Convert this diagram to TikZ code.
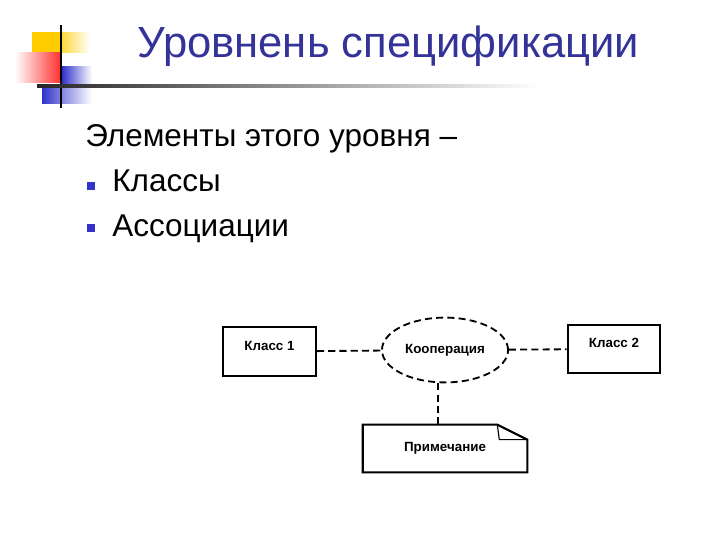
\documentclass[tikz,border=0pt]{standalone}
\usepackage{fontspec}
\setmainfont{Liberation Sans}
\usetikzlibrary{shapes.geometric,positioning,calc}

\definecolor{titleblue}{HTML}{333399}
\definecolor{logoyellow}{HTML}{FFCC00}
\definecolor{logored}{HTML}{FF3333}
\definecolor{logoblue}{HTML}{3333CC}

\begin{document}
\begin{tikzpicture}[
    x=0.025cm,
    y=-0.025cm,
    title/.style={
        anchor=base west,
        inner sep=0pt,
        text=titleblue,
        font=\fontsize{31}{37}\selectfont
    },
    bodytext/.style={
        anchor=base west,
        inner sep=0pt,
        font=\fontsize{22.4}{27}\selectfont
    },
    classbox/.style={
        draw=black,
        line width=1.5pt,
        minimum width=2.32cm,
        minimum height=1.22cm,
        text depth=0.3cm,
        font=\bfseries\fontsize{9.5}{11}\selectfont
    },
    coopshape/.style={
        ellipse,
        draw=black,
        line width=1.3pt,
        dash pattern=on 5pt off 3pt,
        minimum width=3.1cm,
        minimum height=1.62cm,
        font=\bfseries\fontsize{9.5}{11}\selectfont
    },
    notebox/.style={
        minimum width=4.1cm,
        minimum height=1.18cm,
        font=\bfseries\fontsize{9.5}{11}\selectfont
    },
    link/.style={
        line width=1.3pt,
        dash pattern=on 5pt off 3pt
    }
]
\useasboundingbox (0,0) rectangle (720,540);

% ==========================================================
% LOGO
% ==========================================================

\fill[logoyellow] (32,32) rectangle (60,52);
\shade[left color=logoyellow!80, right color=white] (60,32) rectangle (90,52);
\shade[left color=white, right color=logored] (15,52) rectangle (60,82);
\shade[left color=logoblue, right color=white] (62,66) rectangle (92,83);
\shade[left color=logoblue, right color=white] (42,87) rectangle (92,103);
\draw[line width=2pt] (61,25) -- (61,108);
\shade[left color=black!85, right color=white] (37,84.5) rectangle (540,87);

% ==========================================================
% TEXT
% ==========================================================

\node[title] (heading) at (137,57) {Уровнень спецификации};

\node[bodytext] (intro) at (85,146) {Элементы этого уровня –};
\node[bodytext] (item1) at (112,191) {Классы};
\node[bodytext] (item2) at (112,236) {Ассоциации};

\fill[logoblue] (87,182) rectangle (95,190);
\fill[logoblue] (87,224) rectangle (95,232);

% ==========================================================
% DIAGRAM
% ==========================================================

\node[classbox] (class1) at (269.5,351.5) {Класс 1};
\node[coopshape] (coop) at (445,350) {Кооперация};
\node[classbox] (class2) at (614,349) {Класс 2};
\node[notebox] (note) at (445,448.5) {Примечание};

\draw[line width=1.5pt]
    (note.north west) -- ($(note.north east)+(-30,0)$)
    -- ($(note.north east)+(0,15)$) -- (note.south east)
    -- (note.south west) -- cycle;
\draw[line width=0.8pt]
    ($(note.north east)+(-30,0)$) -- ($(note.north east)+(-28,15)$)
    -- ($(note.north east)+(0,15)$);

\coordinate (coopfoot) at ($(coop.south)+(-7,0)$);

\draw[link] (class1) -- (coop);
\draw[link] (coop) -- (class2);
\draw[link] (coopfoot) -- (coopfoot |- note.north);

\end{tikzpicture}
\end{document}
